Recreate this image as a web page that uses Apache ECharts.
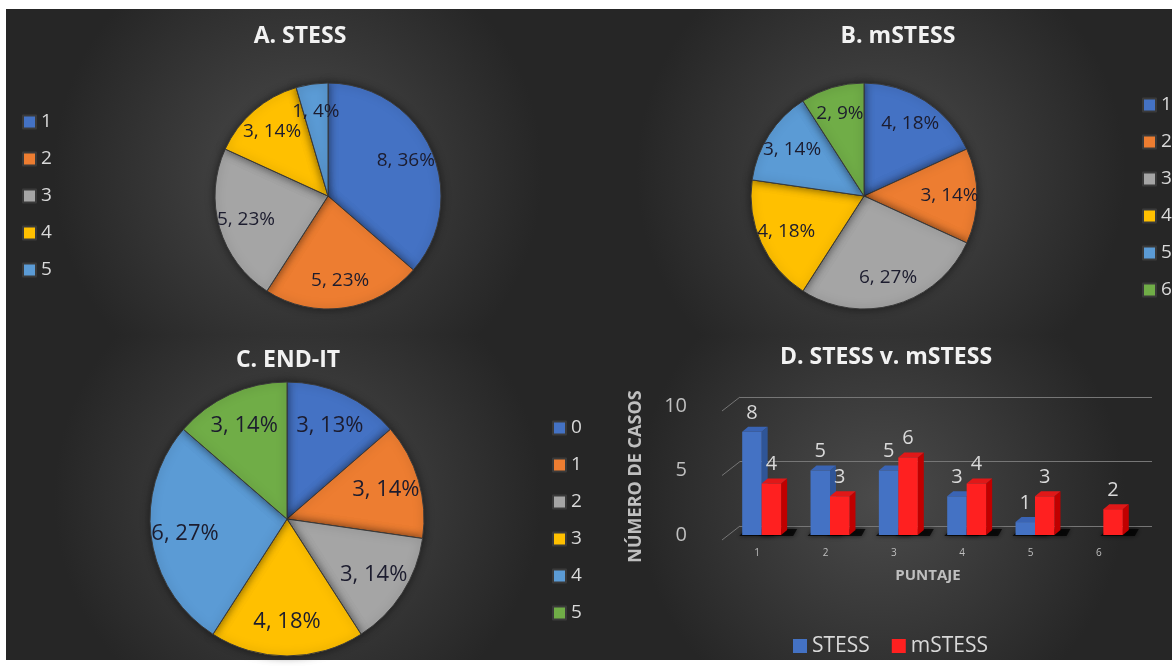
<!DOCTYPE html>
<html>
<head>
<meta charset="utf-8">
<script src="https://cdn.jsdelivr.net/npm/echarts@6/dist/echarts.min.js"></script>
<style>
html,body{margin:0;padding:0;background:#fff;}
#main{width:1172px;height:666px;}
</style>
</head>
<body>
<div id="main"></div>
<script>
// A. STESS
var catsA = ['1','2','3','4','5'];
var valsA = [8,5,5,3,1];
var pctA = [36,23,23,14,4];
// B. mSTESS
var catsB = ['1','2','3','4','5','6'];
var valsB = [4,3,6,4,3,2];
var pctB = [18,14,27,18,14,9];
// C. END-IT
var catsC = ['0','1','2','3','4','5'];
var valsC = [3,3,3,4,6,3];
var pctC = [13,14,14,18,27,14];
// D. STESS v. mSTESS
var puntaje = ['1','2','3','4','5','6'];
var stess = [8,5,5,3,1,null];
var mstess = [4,3,6,4,3,2];

var colores = ['#4472C4','#ED7D31','#A5A5A5','#FFC000','#5B9BD5','#70AD47'];
var fuente = '"Open Sans", sans-serif';
var gris = '#bfbfbf';

// rejilla frontal y trasera (efecto 3D)
var frente = {left:723, right:39, top:406, bottom:131};
var fondo = {left:740, right:20, top:397, bottom:140};

function datosPie(pref, cats, vals, transparente){
    var d = [];
    for(var i=0;i<cats.length;i++){
        d.push({
            name: pref+cats[i],
            value: vals[i],
            itemStyle: {color: transparente ? 'rgba(0,0,0,0)' : colores[i]}
        });
    }
    return d;
}

function seriePie(pref, cats, vals, pcts, centro, r, fs){
    return [{
        type: 'pie',
        center: centro,
        radius: [0, r],
        startAngle: 90,
        silent: true,
        animation: false,
        data: datosPie(pref, cats, vals, false),
        label: {show: false},
        labelLine: {show: false},
        itemStyle: {borderColor: '#3a3a3a', borderWidth: 1, shadowBlur: 8, shadowColor: 'rgba(0,0,0,0.5)'}
    },{
        // solo etiquetas, un poco mas afuera que el centro del sector
        type: 'pie',
        center: centro,
        radius: [0, r*1.46],
        startAngle: 90,
        silent: true,
        animation: false,
        z: 3,
        data: datosPie(pref, cats, vals, true),
        labelLine: {show: false},
        label: {
            show: true,
            position: 'inside',
            color: '#1c1c2e',
            fontSize: fs,
            fontFamily: fuente,
            formatter: function(p){ return p.value + ', ' + pcts[p.dataIndex] + '%'; }
        }
    }];
}

function leyenda(pref, cats, left, top){
    var nombres = [];
    for(var i=0;i<cats.length;i++){ nombres.push(pref+cats[i]); }
    return {
        data: nombres,
        orient: 'vertical',
        left: left,
        top: top,
        padding: 0,
        itemGap: 17,
        itemWidth: 13,
        itemHeight: 13,
        icon: 'rect',
        selectedMode: false,
        formatter: function(n){ return n.slice(1); },
        textStyle: {color: '#d9d9d9', fontSize: 19, lineHeight: 20, fontFamily: fuente}
    };
}

function barra3d(lado, cFrente, cArriba, cLado){
    return function(params, api){
        var v = api.value(1);
        if (v == null || isNaN(v)) { return; }
        var c = api.coord([api.value(0), v]);
        var b = api.coord([api.value(0), 0]);
        var w = api.size([1, 0])[0] * 0.285;
        var x = lado == 0 ? c[0] - w + 4.5 : c[0] + 4.5;
        var dx = 6, dy = -5;
        var y = c[1], yb = b[1];
        return {
            type: 'group',
            children: [{
                type: 'polygon',
                shape: {points: [[x-3, yb+1], [x+w+dx+6, yb+1], [x+w+dx+10, yb+dy-1], [x+dx-2, yb+dy-1]]},
                style: {fill: 'rgba(0,0,0,0.75)', shadowBlur: 5, shadowColor: 'rgba(0,0,0,0.8)'},
                z2: 0
            },{
                type: 'polygon',
                shape: {points: [[x+w, y], [x+w+dx, y+dy], [x+w+dx, yb+dy], [x+w, yb]]},
                style: {fill: cLado},
                z2: 1
            },{
                type: 'polygon',
                shape: {points: [[x, y], [x+dx, y+dy], [x+w+dx, y+dy], [x+w, y]]},
                style: {fill: cArriba},
                z2: 1
            },{
                type: 'rect',
                shape: {x: x, y: y, width: w, height: yb - y},
                style: {fill: cFrente},
                z2: 2
            },{
                type: 'text',
                x: x + w/2,
                y: y - 19,
                style: {text: String(v), fill: '#d9d9d9', fontSize: 20, fontFamily: fuente, align: 'center', verticalAlign: 'middle'},
                z2: 3
            }]
        };
    };
}

function pares(vals){
    var d = [];
    for(var i=0;i<vals.length;i++){ d.push([i, vals[i]]); }
    return d;
}

function panel(x, y, w, h){
    return {
        type: 'rect', z: -10, silent: true,
        shape: {x: x, y: y, width: w, height: h},
        style: {fill: new echarts.graphic.RadialGradient(0.5, 0.5, 0.75, [
            {offset: 0, color: '#4b4b4b'},
            {offset: 1, color: '#262626'}
        ])}
    };
}

function titulo(txt, x, y){
    return {
        type: 'text', z: 10, silent: true, x: x, y: y,
        style: {text: txt, fill: '#f2f2f2', fontSize: 23, fontWeight: 'bold', fontFamily: fuente, align: 'center', verticalAlign: 'middle'}
    };
}

var dom = document.getElementById('main');
var myChart = echarts.init(dom);

var graficos = [
    panel(6, 9, 584, 326),
    panel(590, 9, 582, 326),
    panel(6, 335, 584, 325),
    panel(590, 335, 582, 325),
    titulo('A. STESS', 300, 36),
    titulo('B. mSTESS', 898, 36),
    titulo('C. END-IT', 288, 360),
    titulo('D. STESS v. mSTESS', 886, 357)
];

var series = [];
series = series.concat(seriePie('A', catsA, valsA, pctA, [328, 196], 113, 19));
series = series.concat(seriePie('B', catsB, valsB, pctB, [864, 196], 113, 19));
series = series.concat(seriePie('C', catsC, valsC, pctC, [287, 519], 137, 22));
series.push({
    name: 'STESS', type: 'custom', xAxisIndex: 0, yAxisIndex: 0,
    itemStyle: {color: '#4472C4'},
    renderItem: barra3d(0, '#4472C4', '#3a64b4', '#2f5597'),
    data: pares(stess), animation: false
});
series.push({
    name: 'mSTESS', type: 'custom', xAxisIndex: 0, yAxisIndex: 0,
    itemStyle: {color: '#FF2020'},
    renderItem: barra3d(1, '#FF2020', '#e01818', '#c00000'),
    data: pares(mstess), animation: false
});

var option = {
    backgroundColor: '#ffffff',
    animation: false,
    graphic: graficos,
    legend: [
        leyenda('A', catsA, 22, 112),
        leyenda('B', catsB, 1142, 95),
        leyenda('C', catsC, 552, 418),
        {
            data: ['STESS', 'mSTESS'],
            left: 793, top: 635,
            padding: 0, itemGap: 22, itemWidth: 14, itemHeight: 14, icon: 'rect',
            selectedMode: false,
            textStyle: {color: '#d9d9d9', fontSize: 21, lineHeight: 22, fontFamily: fuente}
        }
    ],
    grid: [frente, fondo],
    xAxis: [{
        type: 'category', gridIndex: 0, data: puntaje,
        axisLine: {show: false}, axisTick: {show: false},
        axisLabel: {color: gris, fontSize: 10, margin: 13, fontFamily: fuente},
        name: 'PUNTAJE', nameLocation: 'middle', nameGap: 33,
        nameTextStyle: {color: gris, fontSize: 15, fontWeight: 'bold', fontFamily: fuente}
    },{
        type: 'category', gridIndex: 1, data: puntaje, show: false
    }],
    yAxis: [{
        type: 'value', gridIndex: 0, min: 0, max: 10, interval: 5,
        splitLine: {show: false}, axisLine: {show: false}, axisTick: {show: false},
        axisLabel: {color: gris, fontSize: 20, margin: 36, fontFamily: fuente, padding: [8, 0, 0, 0]},
        name: 'NÚMERO DE CASOS', nameLocation: 'middle', nameRotate: 90, nameGap: 78,
        nameTextStyle: {color: gris, fontSize: 18, fontWeight: 'bold', fontFamily: fuente, padding: [0, 12, 0, 0]}
    },{
        type: 'value', gridIndex: 1, min: 0, max: 10, interval: 5,
        axisLabel: {show: false}, axisLine: {show: false}, axisTick: {show: false},
        splitLine: {show: true, lineStyle: {color: '#767676', width: 1}}
    }],
    series: series
};
myChart.setOption(option);

// tramos inclinados de la rejilla (de la cara frontal a la trasera)
var ticks = [0, 5, 10];
var inclinados = [];
for (var i=0;i<ticks.length;i++){
    var yf = myChart.convertToPixel({yAxisIndex: 0}, ticks[i]);
    var yb = myChart.convertToPixel({yAxisIndex: 1}, ticks[i]);
    inclinados.push({
        type: 'line', z: 1, silent: true,
        shape: {x1: frente.left - 1, y1: yf + 5, x2: fondo.left, y2: yb},
        style: {stroke: '#767676', lineWidth: 1}
    });
}
myChart.setOption({graphic: graficos.concat(inclinados)});
</script>
</body>
</html>
